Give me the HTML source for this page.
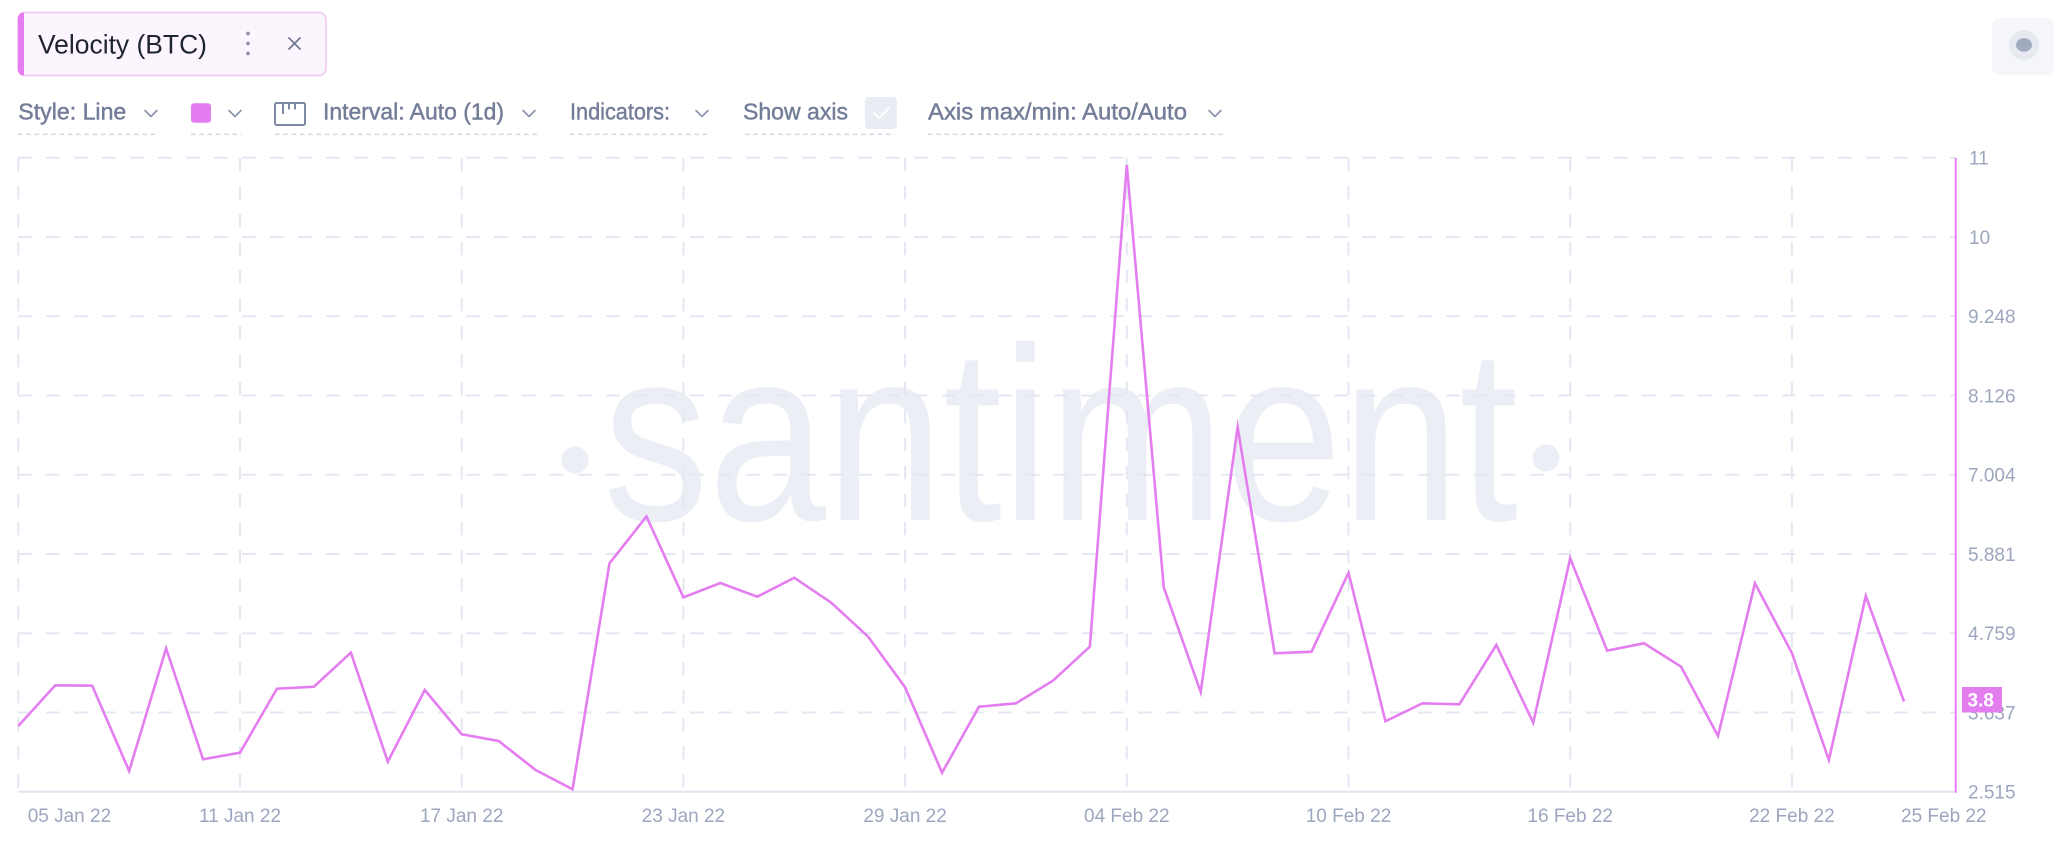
<!DOCTYPE html>
<html>
<head>
<meta charset="utf-8">
<style>
  html, body { margin: 0; padding: 0; background: #ffffff; }
  body { width: 2064px; height: 846px; overflow: hidden; position: relative; }
  svg { position: absolute; left: 0; top: 0; display: block; }
  text { font-family: "Liberation Sans", "DejaVu Sans", sans-serif; }
</style>
</head>
<body>
<svg width="2064" height="846" viewBox="0 0 2064 846" xmlns="http://www.w3.org/2000/svg">
  <!-- Title chip -->
  <rect x="18" y="12.5" width="308" height="63" rx="7" ry="7" fill="#fdf5fe" stroke="#f1c4f6" stroke-width="1.5"/>
  <path d="M24,12.5 L24,75.5 Q18,75.5 18,69 L18,19 Q18,12.5 24,12.5 Z" fill="#e47ef0"/>
  <text x="38" y="53.3" font-size="27" fill="#1e2330" textLength="169" lengthAdjust="spacingAndGlyphs">Velocity (BTC)</text>
  <circle cx="248" cy="33.5" r="1.9" fill="#8c95ad"/>
  <circle cx="248" cy="43.5" r="1.9" fill="#8c95ad"/>
  <circle cx="248" cy="53.5" r="1.9" fill="#8c95ad"/>
  <line x1="289" y1="38" x2="300" y2="49" stroke="#6f7a94" stroke-width="1.8" stroke-linecap="round"/>
  <line x1="300" y1="38" x2="289" y2="49" stroke="#6f7a94" stroke-width="1.8" stroke-linecap="round"/>

  <!-- Top-right button -->
  <rect x="1992" y="18" width="62" height="57" rx="8" ry="8" fill="#f5f6fa"/>
  <circle cx="2024" cy="45" r="15" fill="#e7e9f0"/>
  <ellipse cx="2024" cy="45" rx="8" ry="6.8" fill="#a2aac2"/>

  <!-- Toolbar -->
  <g fill="#737d98" stroke="#737d98" stroke-width="0.45" font-size="23">
    <text x="18.3" y="119.3" textLength="108" lengthAdjust="spacingAndGlyphs">Style: Line</text>
    <text x="323" y="119.3" textLength="181" lengthAdjust="spacingAndGlyphs">Interval: Auto (1d)</text>
    <text x="570" y="119.3" textLength="100" lengthAdjust="spacingAndGlyphs">Indicators:</text>
    <text x="743" y="119.3" textLength="105" lengthAdjust="spacingAndGlyphs">Show axis</text>
    <text x="928" y="119.3" textLength="259" lengthAdjust="spacingAndGlyphs">Axis max/min: Auto/Auto</text>
  </g>
  <g fill="none" stroke="#8a93ab" stroke-width="1.6" stroke-linecap="round" stroke-linejoin="round">
    <polyline points="145,110.5 151,116.5 157,110.5"/>
    <polyline points="229,110.5 235,116.5 241,110.5"/>
    <polyline points="523,110.5 529,116.5 535,110.5"/>
    <polyline points="696,110.5 702,116.5 708,110.5"/>
    <polyline points="1209,110.5 1215,116.5 1221,110.5"/>
  </g>
  <rect x="191" y="103.3" width="20" height="19.4" rx="3" ry="3" fill="#e47ef0"/>
  <!-- ruler icon -->
  <rect x="275" y="103" width="30" height="22" rx="1.5" fill="none" stroke="#7f89a3" stroke-width="2"/>
  <line x1="283" y1="103" x2="283" y2="114" stroke="#7f89a3" stroke-width="2"/>
  <line x1="289" y1="103" x2="289" y2="109.5" stroke="#7f89a3" stroke-width="2"/>
  <line x1="295" y1="103" x2="295" y2="109.5" stroke="#7f89a3" stroke-width="2"/>
  <!-- checkbox -->
  <rect x="865" y="97" width="32" height="32" rx="4" ry="4" fill="#eaecf3"/>
  <polyline points="874,113 879,118 889,108" fill="none" stroke="#ffffff" stroke-width="1.8" stroke-linecap="round" stroke-linejoin="round"/>
  <!-- dashed underlines -->
  <g stroke="#d6d9e5" stroke-width="1.6" stroke-dasharray="4.5 3.8">
    <line x1="18" y1="134.3" x2="159" y2="134.3"/>
    <line x1="191" y1="134.3" x2="242" y2="134.3"/>
    <line x1="275" y1="134.3" x2="537" y2="134.3"/>
    <line x1="570" y1="134.3" x2="707" y2="134.3"/>
    <line x1="745" y1="134.3" x2="895" y2="134.3"/>
    <line x1="928" y1="134.3" x2="1223" y2="134.3"/>
  </g>

  <!-- Watermark -->
  <g fill="#eceef5">
    <text x="603" y="520" font-size="247" textLength="915" lengthAdjust="spacingAndGlyphs">santiment</text>
    <circle cx="575" cy="460" r="13.5"/>
    <circle cx="1546" cy="458" r="13.5"/>
  </g>

  <!-- Gridlines -->
  <g stroke="#e4e7f1" stroke-width="2" stroke-dasharray="13.5 14.5" fill="none">
    <line x1="18" y1="157.7" x2="1955" y2="157.7"/>
    <line x1="18" y1="236.95" x2="1955" y2="236.95"/>
    <line x1="18" y1="316.2" x2="1955" y2="316.2"/>
    <line x1="18" y1="395.45" x2="1955" y2="395.45"/>
    <line x1="18" y1="474.7" x2="1955" y2="474.7"/>
    <line x1="18" y1="553.95" x2="1955" y2="553.95"/>
    <line x1="18" y1="633.2" x2="1955" y2="633.2"/>
    <line x1="18" y1="712.45" x2="1955" y2="712.45"/>
    <line x1="18.3" y1="157.7" x2="18.3" y2="791.7"/>
    <line x1="240" y1="157.7" x2="240" y2="791.7"/>
    <line x1="461.7" y1="157.7" x2="461.7" y2="791.7"/>
    <line x1="683.4" y1="157.7" x2="683.4" y2="791.7"/>
    <line x1="905.1" y1="157.7" x2="905.1" y2="791.7"/>
    <line x1="1126.8" y1="157.7" x2="1126.8" y2="791.7"/>
    <line x1="1348.5" y1="157.7" x2="1348.5" y2="791.7"/>
    <line x1="1570.2" y1="157.7" x2="1570.2" y2="791.7"/>
    <line x1="1791.9" y1="157.7" x2="1791.9" y2="791.7"/>
  </g>
  <!-- Axes -->
  <line x1="18" y1="791.7" x2="1956" y2="791.7" stroke="#e1e4ee" stroke-width="2"/>
  <line x1="1955.7" y1="157.7" x2="1955.7" y2="792.7" stroke="#e47ef0" stroke-width="2"/>

  <!-- Series -->
  <polyline fill="none" stroke="#e47ef0" stroke-width="2.6" stroke-linejoin="miter" stroke-miterlimit="10"
    points="18.3,726 55.25,685.3 92.2,685.7 129.15,771 166.1,648.3 203.05,759.3 240,752.7 276.95,688.7 313.9,686.7 350.85,652.7 387.8,761.7 424.75,690 461.7,734.3 498.65,741 535.6,770 572.55,789.3 609.5,563.3 646.45,516.5 683.4,597.3 720.35,583 757.3,596.7 794.25,577.7 831.2,602.7 868.15,636.7 905.1,687.3 942.05,772.7 979,706.7 1015.95,703.3 1052.9,680.7 1089.85,646.7 1126.8,165 1163.75,587.3 1200.7,692 1237.65,427.3 1274.6,653.3 1311.55,651.7 1348.5,572.7 1385.45,721.3 1422.4,703.3 1459.35,704.3 1496.3,645 1533.25,722.7 1570.2,558.3 1607.15,650.7 1644.1,643.3 1681.05,666.7 1718,736 1754.95,583.3 1791.9,653 1828.85,760 1865.8,596 1904,701.5"/>

  <!-- Y axis labels -->
  <g fill="#9da6bf" font-size="19">
    <text x="1969" y="164.7">11</text>
    <text x="1969" y="243.95">10</text>
    <text x="1968" y="323.2">9.248</text>
    <text x="1968" y="402.45">8.126</text>
    <text x="1968" y="481.7">7.004</text>
    <text x="1968" y="560.95">5.881</text>
    <text x="1968" y="640.2">4.759</text>
    <text x="1968" y="719.45">3.637</text>
    <text x="1968" y="798.7">2.515</text>
  </g>
  <!-- Last value badge -->
  <rect x="1962" y="687" width="40" height="25.5" fill="#e47ef0"/>
  <text x="1967.5" y="706.5" font-size="19" fill="#ffffff" font-weight="bold">3.8</text>

  <!-- X axis labels -->
  <g fill="#9da6bf" font-size="19">
    <text x="27.7" y="822">05 Jan 22</text>
    <text x="240" y="822" text-anchor="middle">11 Jan 22</text>
    <text x="461.7" y="822" text-anchor="middle">17 Jan 22</text>
    <text x="683.4" y="822" text-anchor="middle">23 Jan 22</text>
    <text x="905.1" y="822" text-anchor="middle">29 Jan 22</text>
    <text x="1126.8" y="822" text-anchor="middle">04 Feb 22</text>
    <text x="1348.5" y="822" text-anchor="middle">10 Feb 22</text>
    <text x="1570.2" y="822" text-anchor="middle">16 Feb 22</text>
    <text x="1791.9" y="822" text-anchor="middle">22 Feb 22</text>
    <text x="1901" y="822">25 Feb 22</text>
  </g>
</svg>
</body>
</html>
